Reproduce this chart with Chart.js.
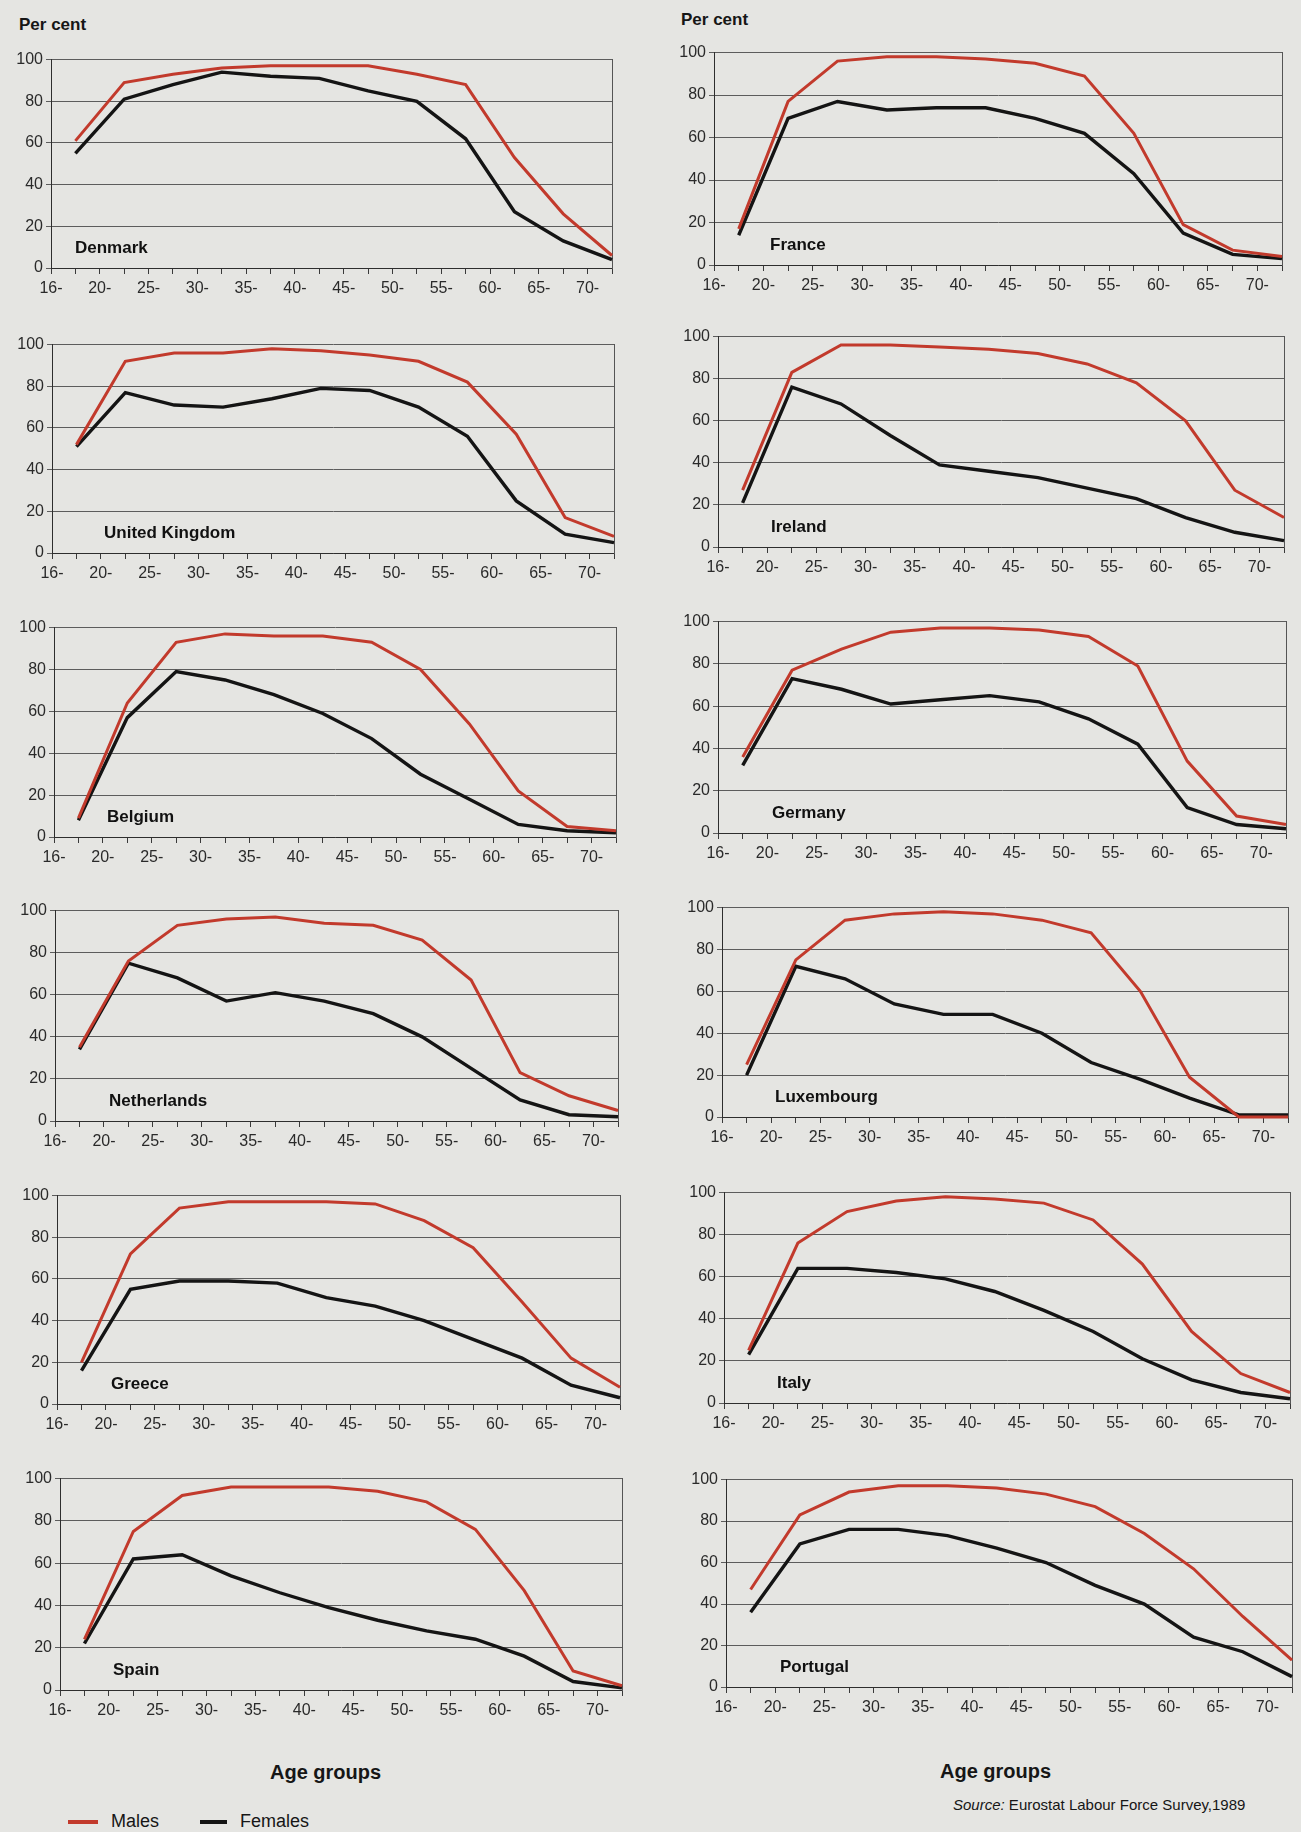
<!DOCTYPE html>
<html>
<head>
<meta charset="utf-8">
<script src="https://cdn.jsdelivr.net/npm/chart.js@4.4.1/dist/chart.umd.min.js"></script>
<style>
  body { margin:0; width:1301px; height:1832px; background:#e5e5e2; position:relative; overflow:hidden;
         font-family:"Liberation Sans", Arial, sans-serif; color:#161616; }
  canvas { position:absolute; }
  .txt { position:absolute; white-space:nowrap; }
  .pc { font-weight:bold; font-size:17px; }
  .ag { font-weight:bold; font-size:20px; }
  .src { font-size:15px; }
  .leg { font-size:18px; }
  .legline { position:absolute; height:4px; }
</style>
</head>
<body>
<div class="txt pc" style="left:19px;top:15px">Per cent</div>
<div class="txt pc" style="left:681px;top:10px">Per cent</div>
<div class="txt ag" style="left:270px;top:1761px">Age groups</div>
<div class="txt ag" style="left:940px;top:1760px">Age groups</div>
<div class="txt src" style="left:953px;top:1796px"><i>Source:</i> Eurostat Labour Force Survey,1989</div>
<div class="legline" style="left:68px;top:1820px;width:30px;background:#c23a2c"></div>
<div class="txt leg" style="left:111px;top:1811px">Males</div>
<div class="legline" style="left:200px;top:1820px;width:27px;background:#141414"></div>
<div class="txt leg" style="left:240px;top:1811px">Females</div>

<script>
// groupes d'age (axe x)
const ageGroups = ['16-', '20-', '25-', '30-', '35-', '40-', '45-', '50-', '55-', '60-', '65-', '70-'];
const yTicks = [0, 20, 40, 60, 80, 100];

// valeurs (pour cent)
const denmarkMales       = [61, 89, 93, 96, 97, 97, 97, 93, 88, 53, 26, 6];
const denmarkFemales     = [55, 81, 88, 94, 92, 91, 85, 80, 62, 27, 13, 4];
const ukMales            = [52, 92, 96, 96, 98, 97, 95, 92, 82, 57, 17, 8];
const ukFemales          = [51, 77, 71, 70, 74, 79, 78, 70, 56, 25, 9, 5];
const belgiumMales       = [9, 64, 93, 97, 96, 96, 93, 80, 54, 22, 5, 3];
const belgiumFemales     = [8, 57, 79, 75, 68, 59, 47, 30, 18, 6, 3, 2];
const netherlandsMales   = [35, 76, 93, 96, 97, 94, 93, 86, 67, 23, 12, 5];
const netherlandsFemales = [34, 75, 68, 57, 61, 57, 51, 40, 25, 10, 3, 2];
const greeceMales        = [20, 72, 94, 97, 97, 97, 96, 88, 75, 49, 22, 8];
const greeceFemales      = [16, 55, 59, 59, 58, 51, 47, 40, 31, 22, 9, 3];
const spainMales         = [24, 75, 92, 96, 96, 96, 94, 89, 76, 47, 9, 2];
const spainFemales       = [22, 62, 64, 54, 46, 39, 33, 28, 24, 16, 4, 1];
const franceMales        = [17, 77, 96, 98, 98, 97, 95, 89, 62, 19, 7, 4];
const franceFemales      = [14, 69, 77, 73, 74, 74, 69, 62, 43, 15, 5, 3];
const irelandMales       = [27, 83, 96, 96, 95, 94, 92, 87, 78, 60, 27, 14];
const irelandFemales     = [21, 76, 68, 53, 39, 36, 33, 28, 23, 14, 7, 3];
const germanyMales       = [36, 77, 87, 95, 97, 97, 96, 93, 79, 34, 8, 4];
const germanyFemales     = [32, 73, 68, 61, 63, 65, 62, 54, 42, 12, 4, 2];
const luxembourgMales    = [25, 75, 94, 97, 98, 97, 94, 88, 60, 19, 0, 0];
const luxembourgFemales  = [20, 72, 66, 54, 49, 49, 40, 26, 18, 9, 1, 1];
const italyMales         = [25, 76, 91, 96, 98, 97, 95, 87, 66, 34, 14, 5];
const italyFemales       = [23, 64, 64, 62, 59, 53, 44, 34, 21, 11, 5, 2];
const portugalMales      = [47, 83, 94, 97, 97, 96, 93, 87, 74, 57, 34, 13];
const portugalFemales    = [36, 69, 76, 76, 73, 67, 60, 49, 40, 24, 17, 5];

// position de chaque zone de tracé : gauche, haut, droite, bas, décalage du nom
const panels = [
  ['Denmark',        denmarkMales,     denmarkFemales,     [51, 57, 612, 268, 24]],
  ['United Kingdom', ukMales,          ukFemales,          [52, 342, 614, 553, 52]],
  ['Belgium',        belgiumMales,     belgiumFemales,     [54, 625, 616, 837, 53]],
  ['Netherlands',    netherlandsMales, netherlandsFemales, [55, 908, 618, 1121, 54]],
  ['Greece',         greeceMales,      greeceFemales,      [57, 1193, 620, 1404, 54]],
  ['Spain',          spainMales,       spainFemales,       [60, 1476, 622, 1690, 53]],
  ['France',         franceMales,      franceFemales,      [714, 50, 1282, 265, 56]],
  ['Ireland',        irelandMales,     irelandFemales,     [718, 334, 1284, 547, 53]],
  ['Germany',        germanyMales,     germanyFemales,     [718, 619, 1286, 833, 54]],
  ['Luxembourg',     luxembourgMales,  luxembourgFemales,  [722, 905, 1288, 1117, 53]],
  ['Italy',          italyMales,       italyFemales,       [724, 1190, 1290, 1403, 53]],
  ['Portugal',       portugalMales,    portugalFemales,    [726, 1477, 1292, 1687, 54]]
];

const PAD_L = 48, PAD_T = 10, PAD_R = 6, PAD_B = 34;
const RED = '#c23a2c';
const BLACK = '#141414';

Chart.defaults.font.family = '"Liberation Sans", Arial, sans-serif';

// ticks de l'axe x : un à chaque groupe et un au milieu
const xTickValues = [];
ageGroups.forEach((g, i) => { xTickValues.push(i); xTickValues.push(i + 0.5); });

//Function qui crée un petit graphique par pays
function makePanel(name, males, females, box) {
  const [L, T, R, B, nameDx] = box;
  const cv = document.createElement('canvas');
  cv.width = (R - L) + PAD_L + PAD_R;
  cv.height = (B - T) + PAD_T + PAD_B;
  cv.style.left = (L - PAD_L) + 'px';
  cv.style.top = (T - PAD_T) + 'px';
  document.body.appendChild(cv);

  const countryName = {
    id: 'countryName',
    afterDraw(chart) {
      const ctx = chart.ctx;
      const a = chart.chartArea;
      ctx.save();
      ctx.font = 'bold 17px "Liberation Sans", Arial, sans-serif';
      ctx.fillStyle = '#111';
      ctx.textBaseline = 'middle';
      ctx.fillText(name, a.left + nameDx, a.bottom - 20);
      ctx.restore();
    }
  };

  new Chart(cv, {
    type: 'line',
    data: {
      datasets: [{
        label: 'Males',
        data: males.map((v, i) => ({ x: i + 0.5, y: v })),
        borderColor: RED,
        borderWidth: 3,
        pointRadius: 0,
        tension: 0,
        clip: false
      }, {
        label: 'Females',
        data: females.map((v, i) => ({ x: i + 0.5, y: v })),
        borderColor: BLACK,
        borderWidth: 3.4,
        pointRadius: 0,
        tension: 0,
        clip: false
      }]
    },
    options: {
      responsive: false,
      animation: false,
      devicePixelRatio: 1,
      layout: { padding: { top: PAD_T, right: PAD_R, left: 0, bottom: 0 } },
      plugins: { legend: { display: false }, tooltip: { enabled: false } },
      scales: {
        x: {
          type: 'linear',
          min: 0,
          max: ageGroups.length - 0.5,
          afterFit(s) { s.height = PAD_B; },
          afterBuildTicks(s) { s.ticks = xTickValues.map(v => ({ value: v })); },
          ticks: {
            autoSkip: false, maxRotation: 0, minRotation: 0, padding: 5,
            color: '#2a2a2a', font: { size: 16 },
            callback: (v) => Number.isInteger(v) ? ageGroups[v] : ''
          },
          grid: { drawOnChartArea: false, drawTicks: true, tickLength: 6, color: '#3a3a3a' },
          border: { display: true, color: '#2e2e2e', width: 1 }
        },
        y: {
          min: 0,
          max: 100,
          afterFit(s) { s.width = PAD_L; },
          afterBuildTicks(s) { s.ticks = yTicks.map(v => ({ value: v })); },
          ticks: { padding: 3, color: '#2a2a2a', font: { size: 16 } },
          grid: { color: '#5c5c5c', lineWidth: 1, tickLength: 5 },
          border: { display: true, color: '#2e2e2e', width: 1 }
        },
        yr: {
          position: 'right',
          min: 0,
          max: 100,
          afterFit(s) { s.width = 0; },
          ticks: { display: false },
          grid: { drawOnChartArea: false, drawTicks: false },
          border: { display: true, color: '#555', width: 1 }
        }
      }
    },
    plugins: [countryName]
  });
}

panels.forEach(p => makePanel(p[0], p[1], p[2], p[3]));
</script>
</body>
</html>
